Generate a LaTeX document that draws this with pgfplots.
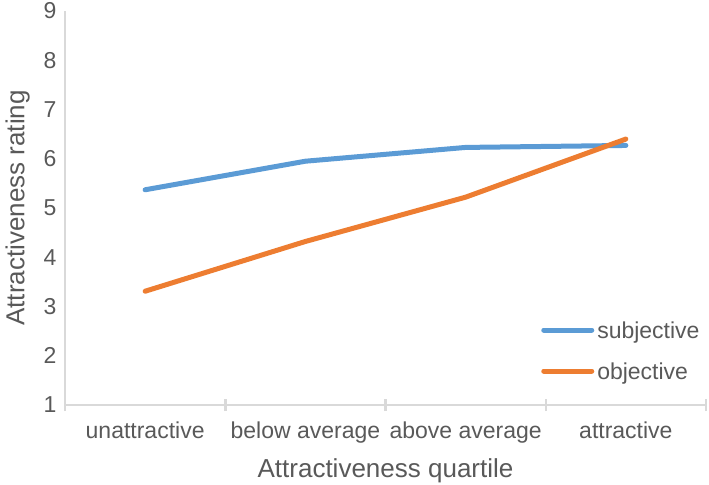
\documentclass[border=0pt]{standalone}
\usepackage{pgfplots}
\pgfplotsset{compat=1.18}
\usepackage{fontspec}
\setmainfont{Liberation Sans}
\definecolor{sblue}{HTML}{5B9BD5}
\definecolor{sorange}{HTML}{ED7D31}
\definecolor{axgray}{HTML}{D9D9D9}
\definecolor{txtgray}{HTML}{595959}
\begin{document}
\begin{tikzpicture}
\begin{axis}[
  scale only axis,
  width=641bp, height=394bp,
  xmin=-0.5, xmax=3.5, ymin=1, ymax=9,
  axis x line=bottom, axis y line=left,
  axis line style={axgray, line width=2.5bp, -},
  xtick={0,1,2,3},
  xticklabels={unattractive, below average, above average, attractive},
  minor xtick={-0.5,0.5,1.5,2.5,3.5},
  major tick length=0pt,
  minor tick length=12bp,
  tick align=center,
  minor tick style={axgray, line width=2.5bp},
  ytick={1,2,...,9},
  /pgf/number format/assume math mode=true,
  tick label style={font=\fontsize{23bp}{27bp}\selectfont, text=txtgray},
  xticklabel style={yshift=-13bp},
  yticklabel style={xshift=-5bp},
  xlabel={Attractiveness quartile},
  ylabel={Attractiveness rating},
  label style={font=\fontsize{26bp}{30bp}\selectfont, text=txtgray},
  xlabel style={yshift=-9bp},
  ylabel style={yshift=7bp},
  legend style={draw=none, fill=none, at={(0.738,0.133)}, anchor=west,
    font=\fontsize{23bp}{27bp}\selectfont, text=txtgray,
    nodes={inner sep=0pt, text height=17bp, text depth=5bp},
    row sep=19bp, column sep=3bp},
  legend cell align=left,
  legend image code/.code={\draw[#1, line width=5bp, line cap=round] (0bp,2bp) -- (48bp,2bp);},
]
\addplot[sblue, line width=5bp, line cap=round, line join=round] coordinates {(0,5.37) (1,5.95) (2,6.23) (3,6.27)};
\addlegendentry{subjective}
\addplot[sorange, line width=5bp, line cap=round, line join=round] coordinates {(0,3.31) (1,4.32) (2,5.22) (3,6.40)};
\addlegendentry{objective}
\end{axis}
\pgfresetboundingbox
\path[use as bounding box] (-65bp,-80bp) rectangle (644bp,405bp);
\end{tikzpicture}
\end{document}
